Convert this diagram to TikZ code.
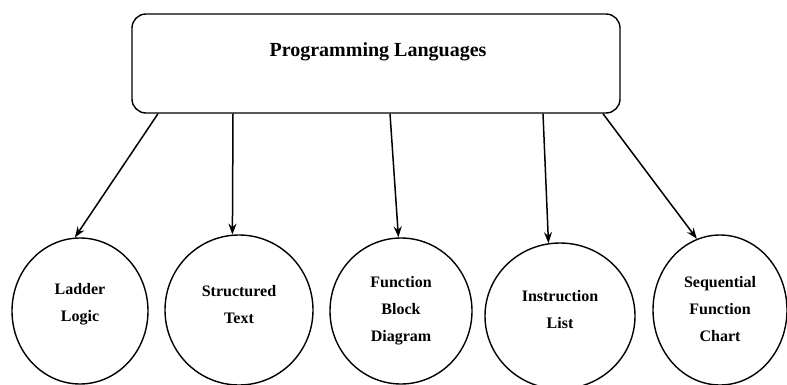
\documentclass[tikz,border=0pt]{standalone}
\usepackage{fontspec}
\setmainfont{Liberation Serif}
\usetikzlibrary{arrows.meta,shapes.geometric}
\begin{document}
\begin{tikzpicture}[x=1pt,y=-1pt,
  topbox/.style={draw,line width=1.4pt,rounded corners=14pt,minimum width=488pt,minimum height=99pt},
  lang/.style={draw,line width=1.4pt,ellipse},
  langtext/.style={align=center,font=\bfseries\fontsize{16}{27}\selectfont},
  conn/.style={line width=1.5pt,-{Stealth[length=11pt,width=8pt]}}]
\path[use as bounding box] (0,0) rectangle (787,385);
\node[topbox] (pl) at (376,63.5) {};
\node[font=\bfseries\fontsize{20}{22}\selectfont,xscale=1.0] (plt) at (378,52) {Programming Languages};
\node[lang,minimum width=136pt,minimum height=146pt] (ll) at (80,311) {};
\node[lang,minimum width=148pt,minimum height=150pt] (st) at (239,310) {};
\node[lang,minimum width=142pt,minimum height=146pt] (fbd) at (401,311) {};
\node[lang,minimum width=150pt,minimum height=146pt] (il) at (560,316) {};
\node[lang,minimum width=134pt,minimum height=150pt] (sfc) at (720,310) {};
\node[langtext] (llt) at (80,304) {Ladder\\Logic};
\node[langtext] (stt) at (239,305) {Structured\\Text};
\node[langtext] (fbdt) at (401,311) {Function\\Block\\Diagram};
\node[langtext] (ilt) at (560,310) {Instruction\\List};
\node[langtext] (sfct) at (720,309) {Sequential\\Function\\Chart};
\coordinate (s1) at (158,0 |- pl.south);
\coordinate (s2) at (233,0 |- pl.south);
\coordinate (s3) at (390,0 |- pl.south);
\coordinate (s4) at (543,0 |- pl.south);
\coordinate (s5) at (603,0 |- pl.south);
\draw[conn] (s1) -- (ll.94);
\draw[conn] (s2) -- (st.95);
\draw[conn] (s3) -- (fbd.92);
\draw[conn] (s4) -- (il.99);
\draw[conn] (s5) -- (sfc.108);
\end{tikzpicture}
\end{document}
